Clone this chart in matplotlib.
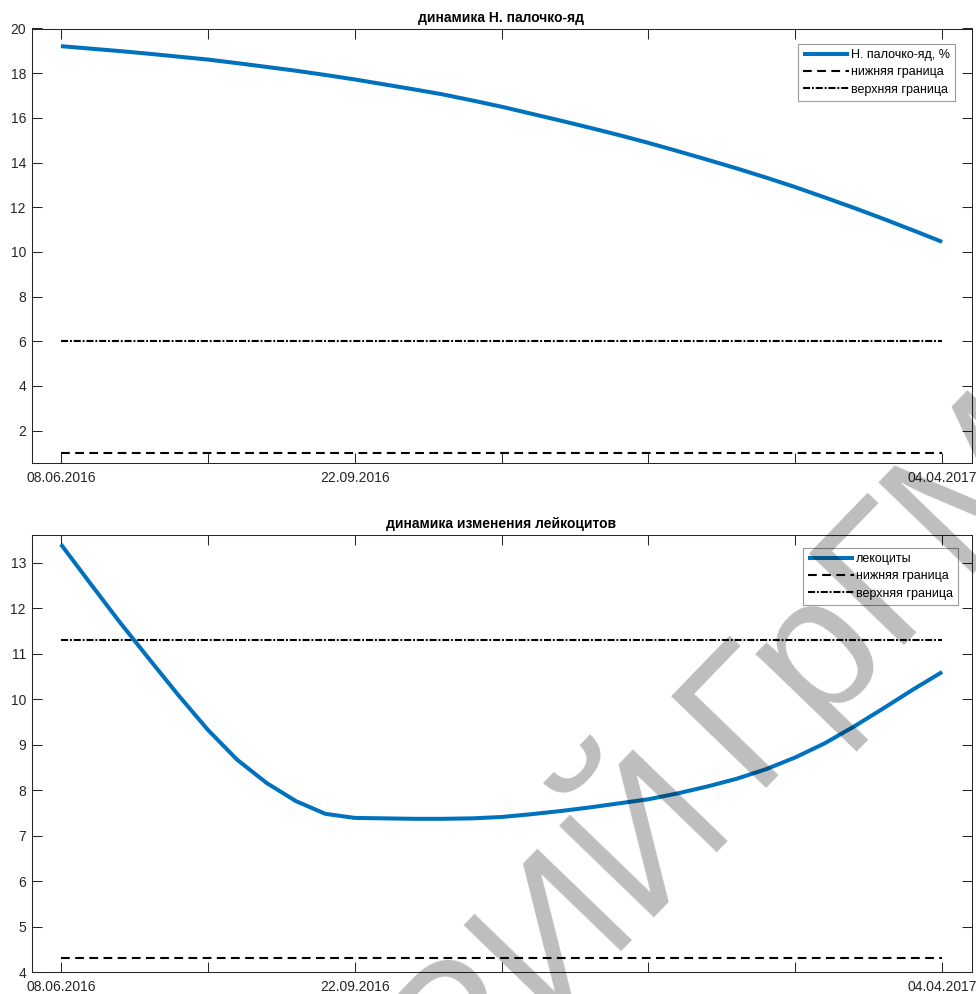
import numpy as np
import matplotlib
matplotlib.use("Agg")
import matplotlib.pyplot as plt

plt.rcParams['font.family'] = ['Liberation Sans', 'DejaVu Sans']

# ---- data ----
tick_labels = ['08.06.2016', '', '22.09.2016', '', '', '', '04.04.2017']

band_values = [19.21, 19.10, 18.99, 18.87, 18.74, 18.61, 18.45, 18.28, 18.11, 17.92,
               17.72, 17.50, 17.28, 17.05, 16.78, 16.50, 16.19, 15.88, 15.56, 15.23,
               14.88, 14.51, 14.13, 13.74, 13.33, 12.90, 12.44, 11.97, 11.48, 10.97,
               10.45]
band_low = 1.0
band_high = 6.0

leuko_values = [13.41, 12.55, 11.70, 10.89, 10.09, 9.33, 8.67, 8.16, 7.76, 7.48,
                7.39, 7.38, 7.37, 7.37, 7.38, 7.41, 7.47, 7.54, 7.62, 7.71,
                7.80, 7.93, 8.08, 8.25, 8.46, 8.72, 9.03, 9.40, 9.80, 10.21,
                10.60]
leuko_low = 4.3
leuko_high = 11.3

titles = ['динамика Н. палочко-яд', 'динамика изменения лейкоцитов']
labels_top = ['Н. палочко-яд, %', 'нижняя граница', 'верхняя граница']
labels_bot = ['лекоциты', 'нижняя граница', 'верхняя граница']
watermark = ['РЕПОЗИТОРИЙ', 'ГрГМУ']

# ---- style ----
W, H = 976, 994
fig = plt.figure(figsize=(W / 100, H / 100), dpi=100)
BLUE = '#0072BD'
AX = '#262626'


def px_axes(left, top, right, bottom):
    return fig.add_axes([left / W, 1 - bottom / H, (right - left) / W, (bottom - top) / H])


def style(ax, values, low, high, ylim, yticks, title, labels, leg_box):
    x = np.arange(len(values))
    ax.plot(x, values, color=BLUE, lw=2.9, solid_capstyle='butt', label=labels[0], zorder=3)
    ax.plot([x[0], x[-1]], [low, low], color='black', lw=1.5, dashes=(4.2, 2.6),
            label=labels[1], zorder=2)
    ax.plot([x[0], x[-1]], [high, high], color='black', lw=1.5,
            dashes=(3.4, 0.9, 0.9, 0.9), label=labels[2], zorder=2)
    ax.set_xlim(-1, len(values))
    ax.set_ylim(*ylim)
    ax.set_xticks(np.arange(0, len(values), 5))
    ax.set_xticklabels(tick_labels)
    ax.set_yticks(yticks)
    ax.set_yticklabels([str(v) for v in yticks])
    for s in ax.spines.values():
        s.set_color(AX)
        s.set_linewidth(0.75)
    ax.tick_params(direction='in', length=7, width=0.75, color=AX, labelcolor=AX,
                   labelsize=10, top=True, right=True)
    ax.tick_params(axis='x', pad=5.5)
    ax.tick_params(axis='y', pad=4)
    ax.set_title(title, fontsize=10, fontweight='bold', pad=5)
    leg = ax.legend(loc='upper right', bbox_to_anchor=leg_box, fontsize=9,
                    handlelength=3.7, handletextpad=0.15, labelspacing=0.42,
                    borderpad=0.4, borderaxespad=0, fancybox=False, framealpha=1,
                    edgecolor='#9a9a9a')
    leg.get_frame().set_linewidth(0.8)


ax1 = px_axes(31.5, 28.5, 971.5, 463)
style(ax1, band_values, band_low, band_high, (0.55, 20), list(range(2, 21, 2)),
      titles[0], labels_top, (1 - 16.5 / 940, 1 - 15.5 / 434.5))

ax2 = px_axes(31.5, 534.7, 971.5, 972)
style(ax2, leuko_values, leuko_low, leuko_high, (4, 13.62), list(range(4, 14)),
      titles[1], labels_bot, (1 - 13.5 / 940, 1 - 13.3 / 437.3))

# ---- watermark ----
fs = 138
fig.text(750 / W, 1 - 788 / H, watermark[1], fontsize=fs, color='black', alpha=0.26,
         rotation=46, rotation_mode='anchor', ha='left', va='baseline', zorder=10)
fig.text(735 / W, 1 - 818 / H, watermark[0], fontsize=fs, color='black', alpha=0.26,
         rotation=46, rotation_mode='anchor', ha='right', va='baseline', zorder=10)

fig.savefig('out.png', dpi=100)
